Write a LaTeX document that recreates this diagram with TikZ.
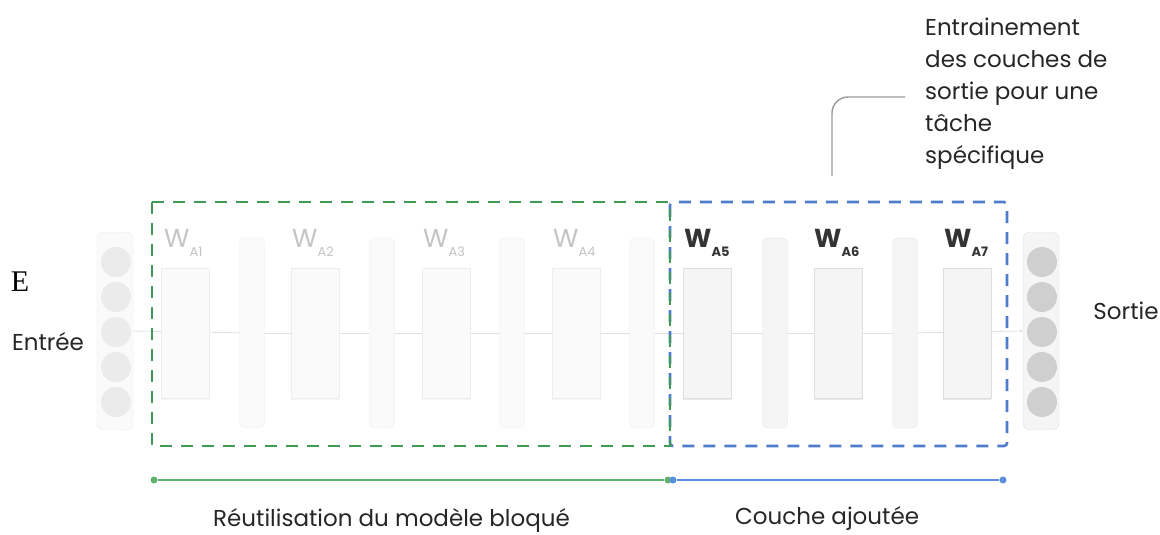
\documentclass[tikz,border=0pt]{standalone}
\usepackage{fontspec}
\setmainfont{Poppins}
\newfontfamily\seriffont{Liberation Serif}
\usepackage{tikz}
\usetikzlibrary{arrows.meta,shadows,positioning}
\definecolor{frozengreen}{RGB}{62,154,84}
\definecolor{trainblue}{RGB}{80,124,204}
\definecolor{linegreen}{RGB}{92,180,110}
\definecolor{lineblue}{RGB}{90,142,222}
\definecolor{lightlab}{RGB}{196,196,196}
\definecolor{darklab}{RGB}{52,52,52}

\newcommand{\wname}[1]{W\raisebox{-9pt}{\fontsize{13}{13}\selectfont #1}}

\begin{document}
\begin{tikzpicture}[x=1pt,y=-1pt,
	col/.style={rectangle,rounded corners=6pt,draw=black!9,fill=black!2,minimum width=36pt,minimum height=197pt},
	inneur/.style={circle,fill=black!8,minimum size=30pt,inner sep=0},
	outneur/.style={circle,fill=black!19,minimum size=30pt,inner sep=0},
	wfrz/.style={rectangle,draw=black!7,fill=black!2,minimum width=48pt,minimum height=130pt,drop shadow={opacity=0.08,shadow xshift=0pt,shadow yshift=-2pt}},
	wtrn/.style={rectangle,draw=black!13,fill=black!4,minimum width=48pt,minimum height=130pt,drop shadow={opacity=0.18,shadow xshift=0pt,shadow yshift=-2pt}},
	actfrz/.style={rectangle,rounded corners=5pt,draw=black!7,fill=black!2,minimum width=25pt,minimum height=190pt},
	acttrn/.style={rectangle,rounded corners=5pt,draw=black!11,fill=black!4,minimum width=25pt,minimum height=190pt},
	flow/.style={draw=black!12,line width=0.8pt,-{Stealth[length=3pt,width=3pt]}},
	wlabfrz/.style={anchor=base west,inner sep=0,text=lightlab,font=\fontsize{26}{26}\selectfont},
	wlabtrn/.style={anchor=base west,inner sep=0,text=darklab,font=\fontsize{26}{26}\selectfont\bfseries},
	lab/.style={inner sep=0,text=black!85,font=\fontsize{23}{27}\selectfont},
	enddot/.style={circle,inner sep=0,minimum size=7pt}]

	\useasboundingbox (0,0) rectangle (1160,535);

	\node[col] (colin) at (115,331) {};
	\node[inneur] (in1) at (116,262) {};
	\node[inneur] (in2) at (116,297) {};
	\node[inneur] (in3) at (116,332) {};
	\node[inneur] (in4) at (116,367) {};
	\node[inneur] (in5) at (116,402) {};

	\node[col,draw=black!13,fill=black!4] (colout) at (1041,331) {};
	\node[outneur] (out1) at (1042,262) {};
	\node[outneur] (out2) at (1042,297) {};
	\node[outneur] (out3) at (1042,332) {};
	\node[outneur] (out4) at (1042,367) {};
	\node[outneur] (out5) at (1042,402) {};

	\coordinate (w1) at (185,333); \coordinate (act1) at (252,333);
	\coordinate (w2) at (315,333); \coordinate (act2) at (382,333);
	\coordinate (w3) at (446,333); \coordinate (act3) at (512,333);
	\coordinate (w4) at (576,333); \coordinate (act4) at (642,333);
	\coordinate (w5) at (707,333); \coordinate (act5) at (775,333);
	\coordinate (w6) at (838,333); \coordinate (act6) at (905,333);
	\coordinate (w7) at (967,333);

	\draw[flow] (colin.east) -- (act1);
	\draw[flow] (act1) -- (act2); \draw[flow] (act2) -- (act3);
	\draw[flow] (act3) -- (act4); \draw[flow] (act4) -- (act5);
	\draw[flow] (act5) -- (act6); \draw[flow] (act6) -- (colout.west);

	\node[wfrz] (b1) at (w1) {}; \node[actfrz] (a1) at (act1) {};
	\node[wfrz] (b2) at (w2) {}; \node[actfrz] (a2) at (act2) {};
	\node[wfrz] (b3) at (w3) {}; \node[actfrz] (a3) at (act3) {};
	\node[wfrz] (b4) at (w4) {}; \node[actfrz] (a4) at (act4) {};
	\node[wtrn] (b5) at (w5) {}; \node[acttrn] (a5) at (act5) {};
	\node[wtrn] (b6) at (w6) {}; \node[acttrn] (a6) at (act6) {};
	\node[wtrn] (b7) at (w7) {};

	\node[wlabfrz] (l1) at (164,247) {\wname{A1}};
	\node[wlabfrz] (l2) at (292,247) {\wname{A2}};
	\node[wlabfrz] (l3) at (423,247) {\wname{A3}};
	\node[wlabfrz] (l4) at (553,247) {\wname{A4}};
	\node[wlabtrn] (l5) at (684,247) {\wname{A5}};
	\node[wlabtrn] (l6) at (814,247) {\wname{A6}};
	\node[wlabtrn] (l7) at (944,247) {\wname{A7}};

	\draw[trainblue,line width=2.6pt,dash pattern=on 12pt off 9pt,rounded corners=3pt] (670,202) rectangle (1007,446);
	\draw[frozengreen,line width=2.6pt,dash pattern=on 12pt off 9pt] (152,202) rectangle (670,446);

	\node[inner sep=0,font=\seriffont\fontsize{30}{30}\selectfont] (e) at (20,282) {E};
	\node[lab] (entree) at (48,342) {Entrée};
	\node[lab] (sortie) at (1126,311) {Sortie};

	\node[lab,anchor=north west,align=left,font=\fontsize{23}{32}\selectfont] (note) at (925,18)
		{Entrainement\\des couches de\\sortie pour une\\tâche\\spécifique};
	\coordinate (nt) at (905,97);
	\coordinate (nb) at (832,176);
	\draw[black!40,line width=1.4pt,rounded corners=16pt] (nt) -| (nb);

	\node[enddot,fill=linegreen] (gl) at (154,480) {};
	\node[enddot,fill=linegreen] (gr) at (668,480) {};
	\node[enddot,fill=lineblue] (bl) at (673,480) {};
	\node[enddot,fill=lineblue] (br) at (1003,480) {};
	\draw[linegreen,line width=2pt] (gl) -- (gr);
	\draw[lineblue,line width=2pt] (bl) -- (br);

	\node[lab,anchor=base west] (reuse) at (213,526) {Réutilisation du modèle bloqué};
	\node[lab,anchor=base west] (added) at (735,524) {Couche ajoutée};
\end{tikzpicture}
\end{document}
